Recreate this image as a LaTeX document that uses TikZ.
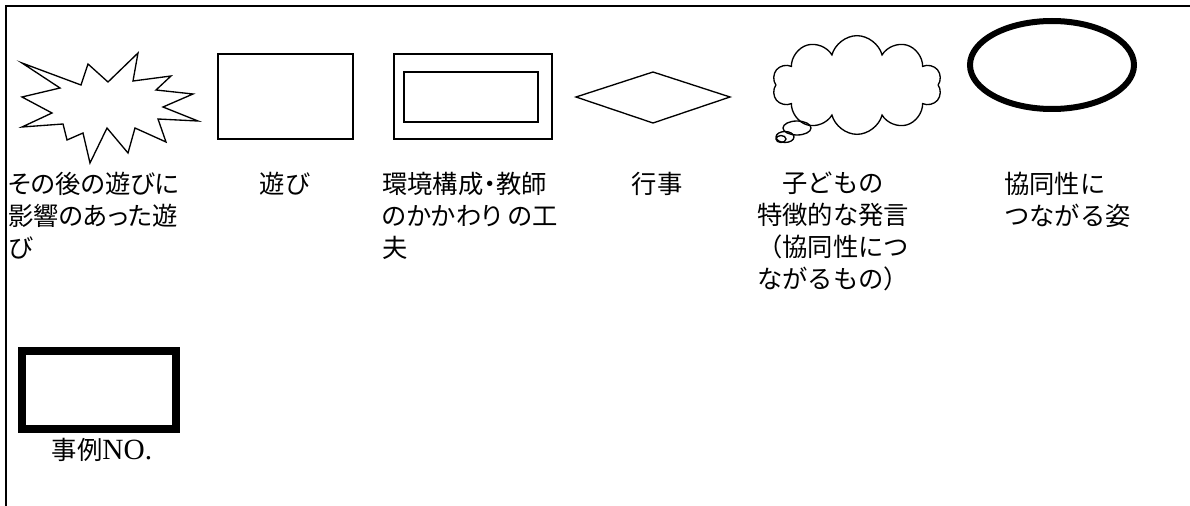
\documentclass[tikz,border=0pt]{standalone}
\usepackage{fontspec}
\setmainfont{Liberation Serif}
\newfontfamily\cjk{Noto Sans CJK JP}
\newfontfamily\cjkp{Noto Sans CJK JP}[RawFeature=+palt]
\usetikzlibrary{shapes.symbols}
\begin{document}
\begin{tikzpicture}[x=0.75pt,y=-0.75pt,
  thinline/.style={draw=black,line width=1pt,line join=miter},
  lab/.style={inner sep=0pt,align=left,anchor=north west,font=\cjk\fontsize{19pt}{24pt}\selectfont},
  labp/.style={lab,font=\cjkp\fontsize{19pt}{24pt}\selectfont},
  labc/.style={inner sep=0pt,anchor=north,font=\cjk\fontsize{19pt}{24pt}\selectfont}]
\useasboundingbox (0,0) rectangle (1190,506);
% frame
\coordinate (fa) at (6,506);
\coordinate (fb) at (6,6);
\coordinate (fc) at (1190,6);
\draw[line width=1.6pt] (fa) -- (fb) -- (fc);
% starburst
\draw[thinline] (22,63) -- (81,85) -- (88,64) -- (108,82) -- (138,53) -- (133,81)
  -- (171,76) -- (156,90) -- (193,94) -- (163,107) -- (198,121) -- (158,119)
  -- (166,142) -- (135,128) -- (128,153) -- (107,128) -- (90,163) -- (83,133)
  -- (67,140) -- (63,124) -- (22,127) -- (52,113) -- (22,97) -- (60,88) -- cycle;
% rectangle
\node[thinline,minimum width=101.25pt,minimum height=63.75pt,inner sep=0pt] (play) at (285.5,96.5) {};
% double rectangle
\node[thinline,minimum width=118.5pt,minimum height=63.75pt,inner sep=0pt] (envo) at (473,96.5) {};
\node[thinline,minimum width=100.5pt,minimum height=37.5pt,inner sep=0pt] (envi) at (471,97) {};
% diamond
\draw[thinline] (576,97) -- (653,72) -- (730,97) -- (653,123) -- cycle;
% cloud
\node[cloud,cloud puffs=10,aspect=1.7,thinline,minimum width=127pt,minimum height=74pt,inner sep=0pt] (cloud) at (857,85) {};
\draw[thinline] (797,128) ellipse [x radius=14,y radius=7];
\draw[thinline] (785,137) ellipse [x radius=9,y radius=5.5];
\draw[thinline] (781,139) ellipse [x radius=5,y radius=3.5];
% thick ellipse
\draw[line width=4.5pt] (1052,65) ellipse [x radius=82,y radius=44];
% case box
\node[draw,line width=5.6pt,minimum width=115.5pt,minimum height=58.5pt,inner sep=0pt] (case) at (99,390) {};
% labels
\node[labp] (l1) at (8,172) {その後の遊びに\\影響のあった遊\\び};
\node[labc] (l2) at (285,172) {遊び};
\node[labp] (l3) at (382,172) {環境構成・教師\\のかかわり の工\\夫};
\node[labc] (l4) at (657,172) {行事};
\node[lab] (l5) at (757,172) {　子どもの\\特徴的な発言\\（協同性につ\\ながるもの）};
\node[lab] (l6) at (1004,172) {協同性に\\つながる姿};
\node[inner sep=0pt,font=\fontsize{19pt}{24pt}\selectfont] (l7) at (102,450) {{\cjk 事例}{\fontsize{22pt}{24pt}\selectfont NO.}};
\end{tikzpicture}
\end{document}
